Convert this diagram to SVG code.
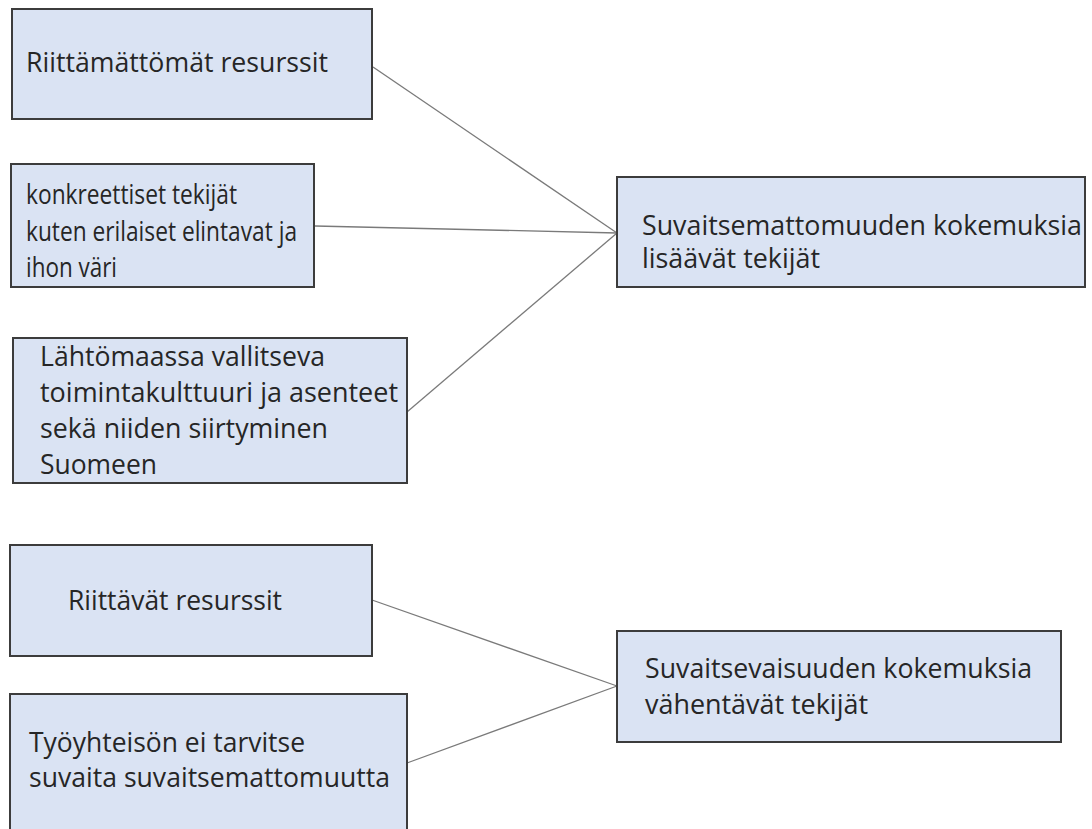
<svg xmlns="http://www.w3.org/2000/svg" width="1092" height="829" viewBox="0 0 1092 829">
<style>
.box{fill:#dae3f3;stroke:#3c3c3c;stroke-width:2}
.t{font-family:"Open Sans","Liberation Sans",sans-serif;font-size:26.5px;fill:#262626}
.c{stroke:#7a7a7a;stroke-width:1.3;fill:none}
</style>
<rect width="1092" height="829" fill="#ffffff"/>
<g id="connectors">
<line class="c" x1="373" y1="67" x2="617" y2="233"/>
<line class="c" x1="315" y1="226" x2="617" y2="233"/>
<line class="c" x1="407" y1="412" x2="617" y2="233"/>
<line class="c" x1="372" y1="600" x2="617" y2="686"/>
<line class="c" x1="407" y1="763" x2="617" y2="686"/>
</g>
<g id="n1">
<rect class="box" x="12" y="9" width="360" height="110"/>
<text class="t" x="26" y="72" textLength="302" lengthAdjust="spacingAndGlyphs">Riittämättömät resurssit</text>
</g>
<g id="n2">
<rect class="box" x="11" y="164" width="303" height="123"/>
<text class="t" x="26" y="204" textLength="211" lengthAdjust="spacingAndGlyphs">konkreettiset tekijät</text>
<text class="t" x="26" y="241" textLength="271" lengthAdjust="spacingAndGlyphs">kuten erilaiset elintavat ja</text>
<text class="t" x="26" y="277" textLength="91" lengthAdjust="spacingAndGlyphs">ihon väri</text>
</g>
<g id="n3">
<rect class="box" x="13" y="338" width="394" height="145"/>
<text class="t" x="40" y="366" textLength="285" lengthAdjust="spacingAndGlyphs">Lähtömaassa vallitseva</text>
<text class="t" x="40" y="402" textLength="358" lengthAdjust="spacingAndGlyphs">toimintakulttuuri ja asenteet</text>
<text class="t" x="40" y="438" textLength="288" lengthAdjust="spacingAndGlyphs">sekä niiden siirtyminen</text>
<text class="t" x="40" y="474" textLength="117" lengthAdjust="spacingAndGlyphs">Suomeen</text>
</g>
<g id="n4">
<rect class="box" x="617" y="177" width="468" height="110"/>
<text class="t" x="642" y="235" textLength="440" lengthAdjust="spacingAndGlyphs">Suvaitsemattomuuden kokemuksia</text>
<text class="t" x="642" y="268" textLength="178" lengthAdjust="spacingAndGlyphs">lisäävät tekijät</text>
</g>
<g id="n5">
<rect class="box" x="10" y="545" width="362" height="111"/>
<text class="t" x="68" y="610" textLength="214" lengthAdjust="spacingAndGlyphs">Riittävät resurssit</text>
</g>
<g id="n6">
<rect class="box" x="10" y="694" width="397" height="150"/>
<text class="t" x="29" y="752" textLength="276" lengthAdjust="spacingAndGlyphs">Työyhteisön ei tarvitse</text>
<text class="t" x="29" y="787" textLength="361" lengthAdjust="spacingAndGlyphs">suvaita suvaitsemattomuutta</text>
</g>
<g id="n7">
<rect class="box" x="617" y="631" width="444" height="111"/>
<text class="t" x="645" y="678" textLength="387" lengthAdjust="spacingAndGlyphs">Suvaitsevaisuuden kokemuksia</text>
<text class="t" x="645" y="714" textLength="223" lengthAdjust="spacingAndGlyphs">vähentävät tekijät</text>
</g>
</svg>
